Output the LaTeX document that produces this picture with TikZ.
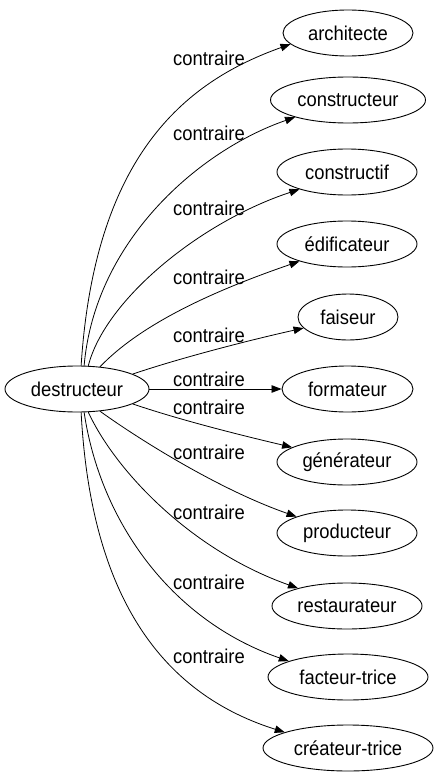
\documentclass[tikz,border=0pt]{standalone}
\usepackage{fontspec}
\setmainfont{Liberation Sans}[FakeStretch=0.92]
\usetikzlibrary{arrows.meta,shapes.geometric}
\begin{document}
\begin{tikzpicture}[x=1pt,y=-1pt,
  every node/.style={font=\fontsize{20}{23}\selectfont},
  word/.style={ellipse, draw, line width=0.9pt, minimum height=46pt, inner sep=0pt},
  lbl/.style={inner sep=0pt},
  edge/.style={draw, line width=0.8pt, -{Triangle[length=10pt,width=7.5pt]}}]
\useasboundingbox (0,0) rectangle (437,779);
\node[word, minimum width=144pt] (src) at (77,389) {destructeur};
\node[word, minimum width=130pt] (arch) at (348,33) {architecte};
\node[word, minimum width=155pt] (cons) at (348,100) {constructeur};
\node[word, minimum width=140pt] (cif) at (347,172) {constructif};
\node[word, minimum width=140pt] (edif) at (347,244) {édificateur};
\node[word, minimum width=100pt] (fais) at (348,317) {faiseur};
\node[word, minimum width=131pt] (form) at (347.5,389) {formateur};
\node[word, minimum width=140pt] (gen) at (347,462) {générateur};
\node[word, minimum width=140pt] (prod) at (347,533) {producteur};
\node[word, minimum width=150pt] (rest) at (347,606) {restaurateur};
\node[word, minimum width=160pt] (fact) at (348,677) {facteur-trice};
\node[word, minimum width=170pt] (crea) at (348,748) {créateur-trice};

\draw[edge] (src.80.5) .. controls (95,150) and (190,80) .. (arch.191);
\draw[edge] (src.73) .. controls (95,240) and (200,150) .. (cons.198);
\draw[edge] (src.64) .. controls (105,300) and (200,222) .. (cif.200);
\draw[edge] (src.44.6) .. controls (140,325) and (210,292) .. (edif.200);
\draw[edge] (src.15.7) .. controls (180,358) and (250,340) .. (fais.194);
\draw[edge] (src.0) -- (form.180);
\draw[edge] (src.-15.7) .. controls (180,420) and (240,435) .. (gen.165);
\draw[edge] (src.-44.6) .. controls (140,440) and (220,490) .. (prod.162);
\draw[edge] (src.-64) .. controls (115,470) and (190,550) .. (rest.160);
\draw[edge] (src.-73) .. controls (100,520) and (170,620) .. (fact.165.5);
\draw[edge] (src.-80.5) .. controls (90,580) and (150,690) .. (crea.166.6);

\node[lbl] (l1) at (209,58) {contraire};
\node[lbl] (l2) at (209,133) {contraire};
\node[lbl] (l3) at (209,208) {contraire};
\node[lbl] (l4) at (209,277) {contraire};
\node[lbl] (l5) at (209,335) {contraire};
\node[lbl] (l6) at (209,379) {contraire};
\node[lbl] (l7) at (209,407) {contraire};
\node[lbl] (l8) at (209,452) {contraire};
\node[lbl] (l9) at (209,512) {contraire};
\node[lbl] (l10) at (209,582) {contraire};
\node[lbl] (l11) at (209,656) {contraire};
\end{tikzpicture}
\end{document}
